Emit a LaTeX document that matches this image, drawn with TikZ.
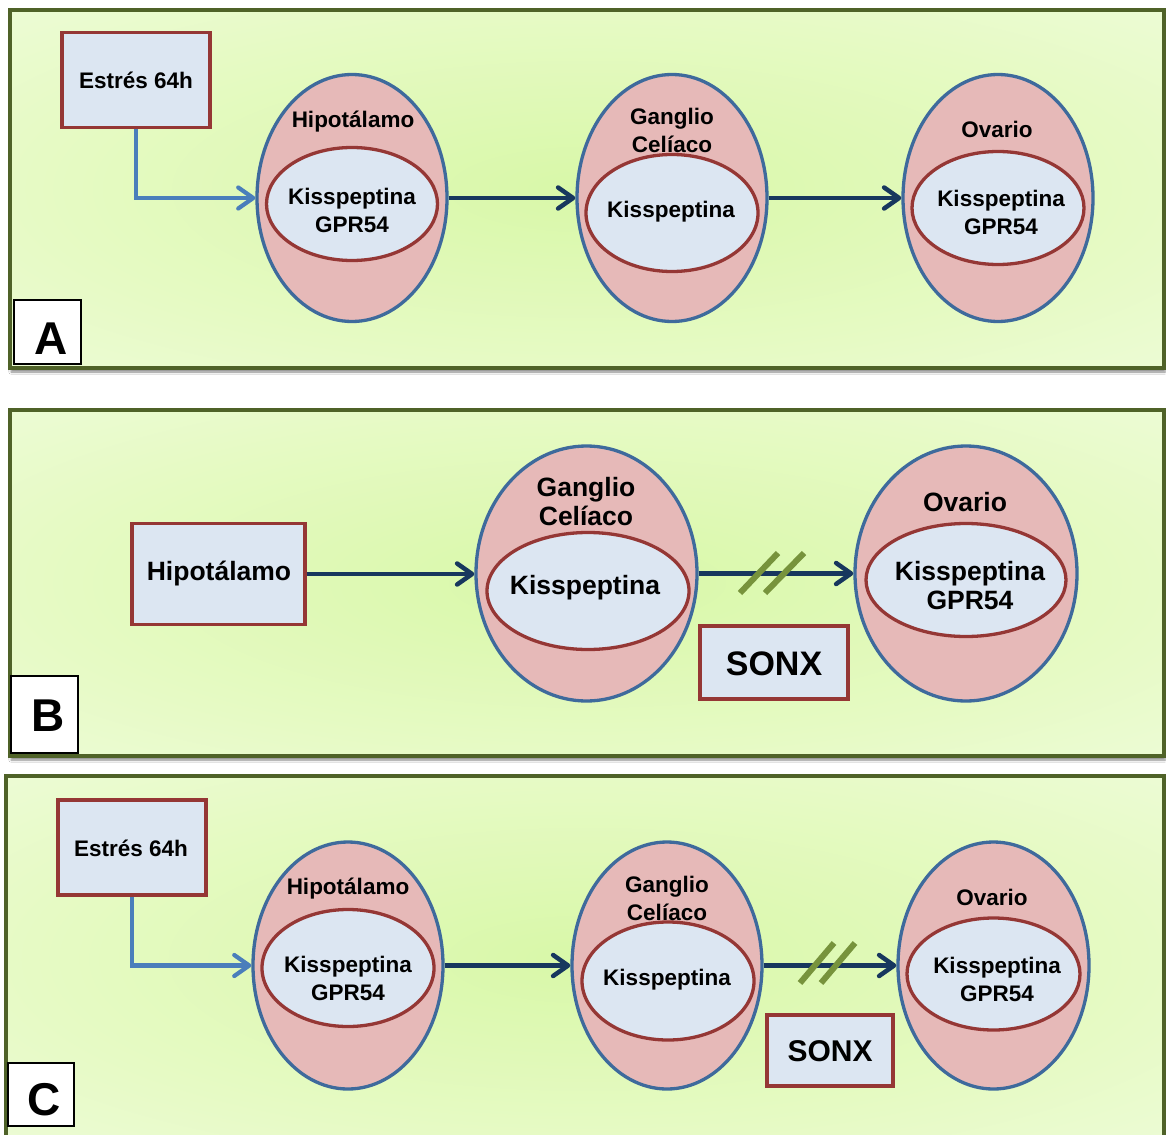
\documentclass[tikz,border=0pt]{standalone}
\usepackage{fontspec}
\setmainfont{Liberation Sans}
\usetikzlibrary{shapes.geometric,arrows.meta,shadows.blur}
\definecolor{frameg}{HTML}{4F6228}
\definecolor{bgin}{RGB}{216,248,168}
\definecolor{bgmid}{RGB}{230,250,196}
\definecolor{bgout}{RGB}{245,253,236}
\definecolor{bluebd}{HTML}{3E6A9C}
\definecolor{redbd}{HTML}{953735}
\definecolor{pinkf}{HTML}{E6B9B8}
\definecolor{lightb}{HTML}{DCE6F2}
\definecolor{bluearr}{HTML}{4A7EBB}
\definecolor{navyarr}{HTML}{17375E}
\definecolor{slashg}{HTML}{77933C}
\pgfdeclareradialshading{panelshade}{\pgfpoint{0bp}{0bp}}{color(0bp)=(bgin); color(24bp)=(bgmid); color(52bp)=(bgout); color(80bp)=(bgout)}
\tikzset{
  panel/.style={draw=frameg,line width=4.5pt,shading=panelshade,
    blur shadow={shadow xshift=1pt,shadow yshift=-4pt,shadow blur steps=5,shadow opacity=45}},
  outerell/.style={ellipse,draw=bluebd,fill=pinkf,line width=3.3pt,inner sep=0pt},
  innerell/.style={ellipse,draw=redbd,fill=lightb,line width=3.3pt,inner sep=0pt},
  boxr/.style={draw=redbd,fill=lightb,line width=3.3pt,inner sep=0pt},
  lab/.style={draw=black,fill=white,line width=2pt,inner sep=0pt},
  txa/.style={font=\bfseries\fontsize{22.5}{28}\selectfont,align=center,inner sep=0pt},
  txb/.style={font=\bfseries\fontsize{26.5}{29}\selectfont,align=center,inner sep=0pt},
  biglab/.style={font=\bfseries\fontsize{46}{46}\selectfont,inner sep=0pt},
  navy/.style={draw=navyarr,line width=4.5pt,-{Straight Barb[length=15pt,width=21pt,round]}},
  bluea/.style={draw=bluearr,line width=4.2pt,-{Straight Barb[length=15pt,width=21pt,round]}},
  slash/.style={draw=slashg,line width=6pt},
}
\begin{document}
\begin{tikzpicture}[x=1pt,y=-1pt]
\useasboundingbox (0,0) rectangle (1166,1134);
\fill[white] (0,0) rectangle (1166,1134);
% ---------- panels
\path[panel] (10,10) rectangle (1164,368);
\path[panel] (10,410) rectangle (1164,756);
\path[panel] (6,776) rectangle (1164,1142);

% ================= Panel A
\node[boxr,minimum width=148pt,minimum height=95pt] (estA) at (136,80) {};
\node[txa] (estAt) at (136,80) {Estrés 64h};
\node[outerell,minimum width=190pt,minimum height=247pt] (hipA) at (352,198) {};
\node[innerell,minimum width=171pt,minimum height=113pt] (hipAi) at (352,204) {};
\node[txa] (hipAt) at (353,122) {Hipotálamo};
\node[txa] (hipAk) at (352,210) {Kisspeptina\\GPR54};
\node[outerell,minimum width=190pt,minimum height=247pt] (ganA) at (672,198) {};
\node[innerell,minimum width=172pt,minimum height=117pt] (ganAi) at (672,213) {};
\node[txa] (ganAt) at (672,130) {Ganglio\\Celíaco};
\node[txa] (ganAk) at (671,212) {Kisspeptina};
\node[outerell,minimum width=190pt,minimum height=247pt] (ovaA) at (998,198) {};
\node[innerell,minimum width=172pt,minimum height=113pt] (ovaAi) at (998,208) {};
\node[txa] (ovaAt) at (997,129) {Ovario};
\node[txa] (ovaAk) at (1001,212) {Kisspeptina\\GPR54};
\draw[bluea] (estA.south) |- (hipA.west);
\draw[navy] (hipA.east) -- (ganA.west);
\draw[navy] (ganA.east) -- (ovaA.west);
\node[lab,minimum width=67pt,minimum height=64pt] (labA) at (47.5,332) {};
\node[biglab] (labAt) at (51,339) {A};

% ================= Panel B
\node[boxr,minimum width=173pt,minimum height=101pt] (hipB) at (218.5,574) {};
\node[txb] (hipBt) at (219,574) {Hipotálamo};
\node[outerell,minimum width=221pt,minimum height=255pt] (ganB) at (586.5,573.5) {};
\node[innerell,minimum width=202pt,minimum height=117pt] (ganBi) at (588,591) {};
\node[txb] (ganBt) at (586,502) {Ganglio\\Celíaco};
\node[txb] (ganBk) at (585,588) {Kisspeptina};
\node[outerell,minimum width=222pt,minimum height=255pt] (ovaB) at (966,573.5) {};
\node[innerell,minimum width=200pt,minimum height=113pt] (ovaBi) at (966,580) {};
\node[txb] (ovaBt) at (965,502) {Ovario};
\node[txb] (ovaBk) at (970,586) {Kisspeptina\\GPR54};
\draw[navy] (hipB.east) -- (hipB.east -| ganB.west);
\draw[navy] (ganB.east) -- (ovaB.west);
\draw[slash] (740,593) -- (778,553);
\draw[slash] (765,593) -- (804,553);
\node[boxr,minimum width=148pt,minimum height=73pt] (sonB) at (774,662.5) {};
\node[font=\bfseries\fontsize{34}{34}\selectfont,inner sep=0pt] (sonBt) at (774,664) {SONX};
\node[lab,minimum width=67pt,minimum height=77pt] (labB) at (44.5,714.5) {};
\node[biglab] (labBt) at (48,716) {B};

% ================= Panel C
\node[boxr,minimum width=148pt,minimum height=95pt] (estC) at (132,847.5) {};
\node[txa] (estCt) at (131,848) {Estrés 64h};
\node[outerell,minimum width=190pt,minimum height=247pt] (hipC) at (348,965.5) {};
\node[innerell,minimum width=172pt,minimum height=117pt] (hipCi) at (348,968) {};
\node[txa] (hipCt) at (348,889) {Hipotálamo};
\node[txa] (hipCk) at (348,978) {Kisspeptina\\GPR54};
\node[outerell,minimum width=190pt,minimum height=247pt] (ganC) at (667,965.5) {};
\node[innerell,minimum width=172pt,minimum height=118pt] (ganCi) at (668,981) {};
\node[txa] (ganCt) at (667,898) {Ganglio\\Celíaco};
\node[txa] (ganCk) at (667,980) {Kisspeptina};
\node[outerell,minimum width=191pt,minimum height=247pt] (ovaC) at (993.5,965.5) {};
\node[innerell,minimum width=173pt,minimum height=112pt] (ovaCi) at (993.5,974) {};
\node[txa] (ovaCt) at (992,897) {Ovario};
\node[txa] (ovaCk) at (997,979) {Kisspeptina\\GPR54};
\draw[bluea] (estC.south) |- (hipC.west);
\draw[navy] (hipC.east) -- (ganC.west);
\draw[navy] (ganC.east) -- (ovaC.west);
\draw[slash] (800,983) -- (834,943);
\draw[slash] (821,983) -- (855,943);
\node[boxr,minimum width=126pt,minimum height=71pt] (sonC) at (830,1050.5) {};
\node[font=\bfseries\fontsize{30}{30}\selectfont,inner sep=0pt] (sonCt) at (830,1051) {SONX};
\node[lab,minimum width=66pt,minimum height=63pt] (labC) at (41,1094.5) {};
\node[biglab] (labCt) at (44,1100) {C};
\end{tikzpicture}
\end{document}
